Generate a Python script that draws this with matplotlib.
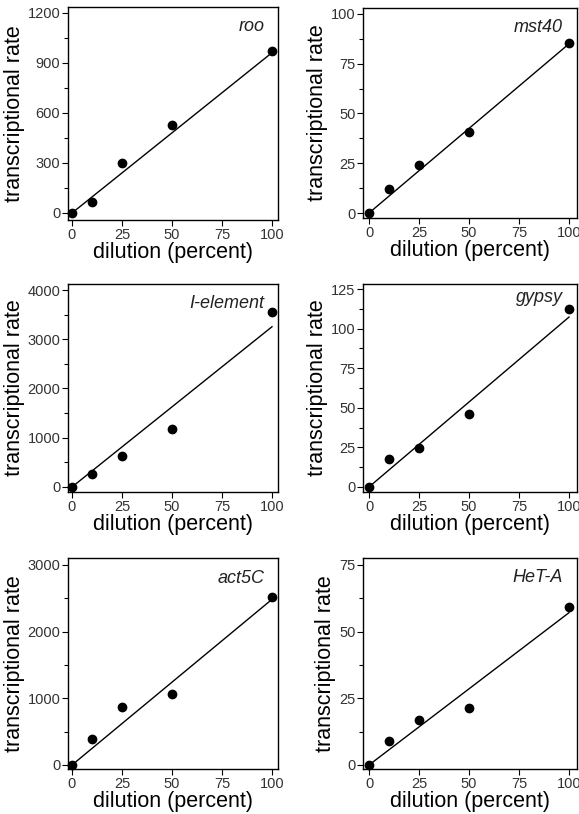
import matplotlib.pyplot as plt
from matplotlib.ticker import MultipleLocator

plt.rcParams['font.family'] = ['Liberation Sans', 'DejaVu Sans']

dilution = [0, 10, 25, 50, 100]

genes = ["roo", "mst40", "I-element", "gypsy", "act5C", "HeT-A"]
rates = {
    "roo":       [0, 64, 300, 526, 970],
    "mst40":     [0, 12.2, 24.3, 40.8, 85.5],
    "I-element": [0, 258, 630, 1180, 3553],
    "gypsy":     [0, 17.5, 24.9, 45.8, 112.3],
    "act5C":     [0, 395, 865, 1070, 2515],
    "HeT-A":     [0, 9.1, 16.9, 21.5, 59.3],
}
# fitted line values at 0 and 100 % dilution
fit_x = [0, 100]
fits = {
    "roo":       [0, 962],
    "mst40":     [0, 85.0],
    "I-element": [0, 3254],
    "gypsy":     [0, 107.3],
    "act5C":     [0, 2485],
    "HeT-A":     [0, 57.1],
}
y_major = {"roo": 300, "mst40": 25, "I-element": 1000,
           "gypsy": 25, "act5C": 1000, "HeT-A": 25}
y_top = {"roo": 1200, "mst40": 100, "I-element": 4000,
         "gypsy": 125, "act5C": 3000, "HeT-A": 75}

# axes rectangles in pixels (left, top, right, bottom)
W, H = 579, 814
rects = [(68, 7, 278, 220), (363, 8, 577, 218),
         (68, 284, 278, 492), (363, 284, 577, 492),
         (68, 558, 278, 769), (363, 558, 577, 769)]
xlims = [(-2, 103), (-3, 104), (-2, 103), (-3, 104), (-2, 103), (-3, 104)]
ylims = {"roo": (-42, 1236), "mst40": (-2.5, 103), "I-element": (-102, 4122),
         "gypsy": (-3.2, 128.2), "act5C": (-60, 3105), "HeT-A": (-1.5, 77.6)}
label_y = {"roo": 0.885, "mst40": 0.885, "I-element": 0.885,
           "gypsy": 0.915, "act5C": 0.88, "HeT-A": 0.885}

fig = plt.figure(figsize=(W / 100, H / 100), dpi=100)

for g, (l, t, r, b), xl in zip(genes, rects, xlims):
    ax = fig.add_axes([l / W, 1 - b / H, (r - l) / W, (b - t) / H])
    ax.plot(fit_x, fits[g], color="black", lw=1.0)
    ax.plot(dilution, rates[g], "o", color="black", ms=6, clip_on=False, zorder=3)
    ax.set_xlim(*xl)
    ax.set_ylim(*ylims[g])
    ax.set_xticks([0, 25, 50, 75, 100])
    ax.yaxis.set_major_locator(MultipleLocator(y_major[g]))
    ax.yaxis.set_minor_locator(MultipleLocator(y_major[g] / 2))
    ax.set_yticks([v for v in range(0, y_top[g] + 1, y_major[g])])
    ax.tick_params(axis="both", which="major", labelsize=10.5, length=4,
                   width=0.8, pad=1.5, labelcolor="#333333", direction="out")
    ax.tick_params(axis="y", which="minor", length=3, width=0.8, direction="out")
    for s in ax.spines.values():
        s.set_linewidth(1.0)
    ax.set_xlabel("dilution (percent)", fontsize=15.5, labelpad=0)
    ax.set_ylabel("transcriptional rate", fontsize=15.5, labelpad=2)
    ax.text(0.935, label_y[g], g, transform=ax.transAxes, ha="right",
            va="baseline", style="italic", fontsize=13, color="#222222")

fig.savefig("out.png", dpi=100)
